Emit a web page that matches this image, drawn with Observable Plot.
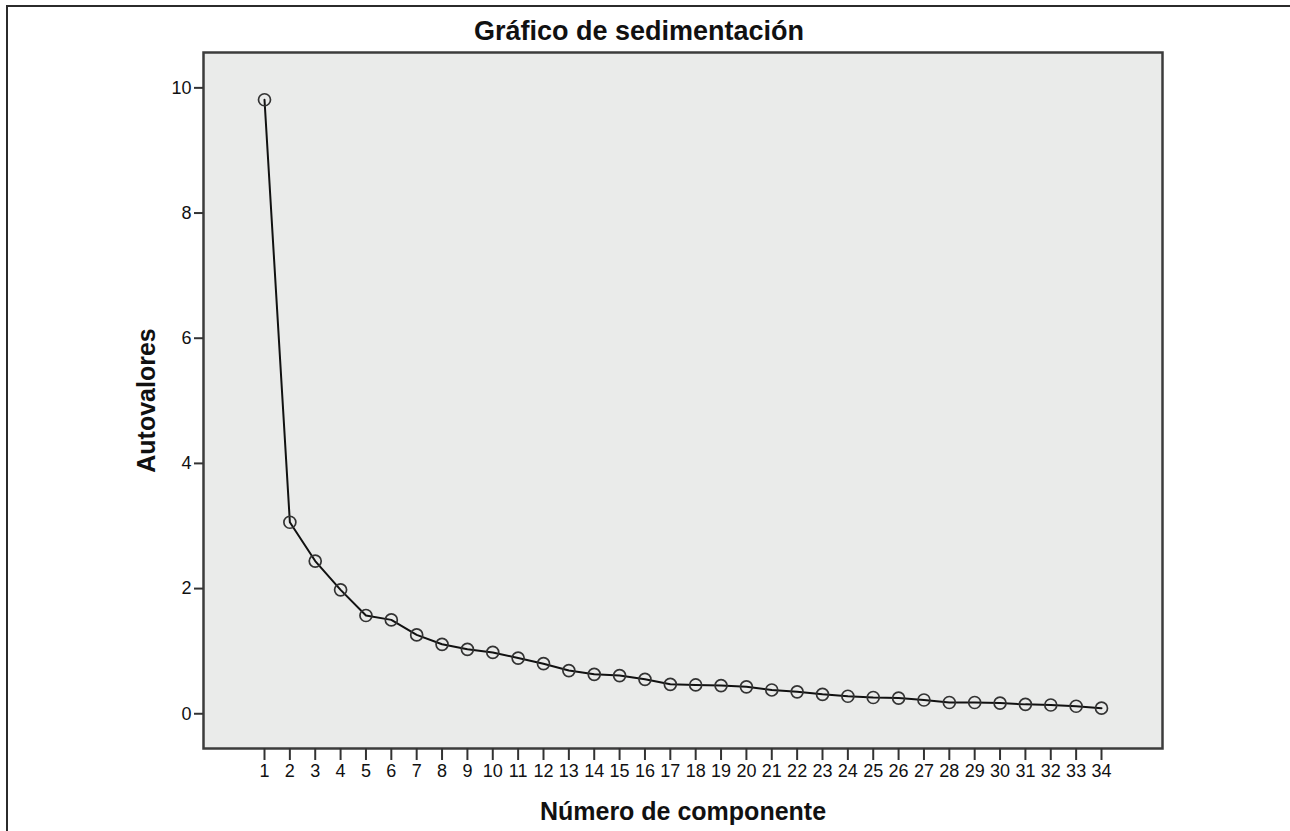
<!DOCTYPE html>
<html><head><meta charset="utf-8">
<script src="https://cdn.jsdelivr.net/npm/d3@7"></script>
<script src="https://cdn.jsdelivr.net/npm/@observablehq/plot@0.6"></script>
<style>
html,body{margin:0;padding:0;background:#fff;overflow:hidden;}
#wrap{position:relative;width:1290px;height:831px;overflow:hidden;font-family:"Liberation Sans",Arial,sans-serif;}
#border{position:absolute;left:6px;top:5px;width:1400px;height:900px;border-left:2px solid #2b2b2b;border-top:2px solid #2b2b2b;}
#title{position:absolute;left:0;top:18px;width:1278px;text-align:center;font-weight:bold;font-size:27px;line-height:27px;color:#111;}
#chart{position:absolute;left:0;top:0;}
#chart [aria-label="x-axis label"] text,#chart [aria-label="y-axis label"] text,
#chart [aria-label="x-axis label"],#chart [aria-label="y-axis label"]{font-weight:bold;font-size:25px;}
</style>
</head><body>
<div id="wrap">
  <div id="border"></div>
  <div id="chart"></div>
  <div id="title">Gráfico de sedimentación</div>
</div>
<script>
const titleText = "Gráfico de sedimentación";
const xLabel = "Número de componente";
const yLabel = "Autovalores";
const components = [1,2,3,4,5,6,7,8,9,10,11,12,13,14,15,16,17,18,19,20,21,22,23,24,25,26,27,28,29,30,31,32,33,34];
const eigenvalues = [9.81,3.06,2.44,1.98,1.57,1.50,1.26,1.11,1.03,0.98,0.89,0.80,0.69,0.63,0.61,0.55,0.47,0.46,0.45,0.43,0.38,0.35,0.31,0.28,0.26,0.25,0.22,0.18,0.18,0.17,0.15,0.14,0.12,0.09];
const yTicks = [0,2,4,6,8,10];

document.getElementById("title").textContent = titleText;
const data = components.map((c,i)=>({c, v: eigenvalues[i]}));

const chart = Plot.plot({
  width: 1290, height: 831,
  marginLeft: 203, marginRight: 128, marginTop: 52, marginBottom: 83,
  style: {background: "transparent", fontSize: "18px", fontFamily: "'Liberation Sans', Arial, sans-serif", color: "#111", overflow: "visible"},
  x: {domain: [-1.405, 36.405]},
  y: {domain: [-0.555, 10.565]},
  marks: [
    Plot.frame({fill: "#eaebea", stroke: null}),
    Plot.line(data, {x: "c", y: "v", stroke: "#111", strokeWidth: 2}),
    Plot.dot(data, {x: "c", y: "v", r: 6, stroke: "#333", strokeWidth: 1.7, fill: "none"}),
    Plot.frame({stroke: "#3c3c3c", strokeWidth: 2.5, fill: "none"}),
    Plot.axisY({ticks: yTicks, fontSize: 18, tickSize: 9, tickPadding: 3, stroke: "#333", strokeWidth: 2, label: yLabel, labelAnchor: "center", labelOffset: 66, labelArrow: false}),
    Plot.axisX({ticks: components, fontSize: 18, tickFormat: d => String(d), tickSize: 12, tickPadding: 4, stroke: "#333", strokeWidth: 2, label: xLabel, labelAnchor: "center", labelOffset: 71, labelArrow: false})
  ]
});
document.getElementById("chart").appendChild(chart);
</script>
</body></html>
